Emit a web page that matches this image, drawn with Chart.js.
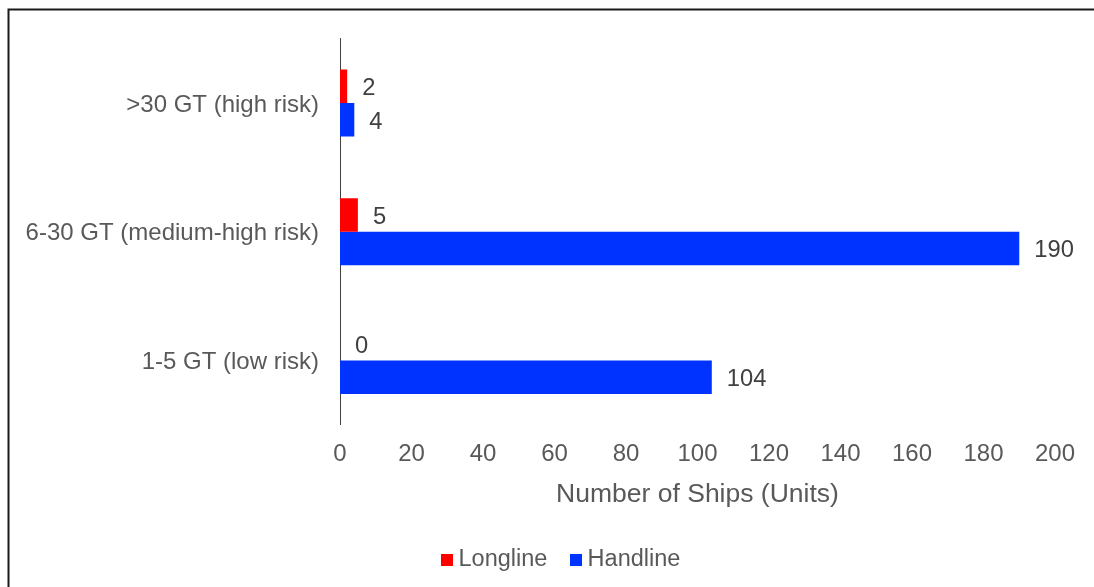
<!DOCTYPE html>
<html>
<head>
<meta charset="utf-8">
<script src="https://cdn.jsdelivr.net/npm/chart.js@4/dist/chart.umd.min.js"></script>
<style>
  html, body { margin: 0; padding: 0; background: #fff; overflow: hidden; }
  canvas { display: block; }
</style>
</head>
<body>
<canvas id="c" width="1094" height="587"></canvas>
<script>
// Vessel size classes (top to bottom) and ship counts per gear type
const categories = [">30 GT (high risk)", "6-30 GT (medium-high risk)", "1-5 GT (low risk)"];
const longline = [2, 5, 0];
const handline = [4, 190, 104];
const xMin = 0;
const xMax = 200;
const xStep = 20;

const FONT = '"Liberation Sans", Arial, sans-serif';
const TEXT_GREY = '#595959';
const LABEL_DARK = '#404040';
const RED = '#FF0000';
const BLUE = '#0033FF';

// Small square swatch used as the legend marker
function swatch(color) {
  const c = document.createElement('canvas');
  c.width = 12;
  c.height = 12;
  const g = c.getContext('2d');
  g.fillStyle = color;
  g.fillRect(0, 0, 12, 12);
  return c;
}
const swatches = [swatch(RED), swatch(BLUE)];

// White page with an outer frame
const framePlugin = {
  id: 'frame',
  beforeDraw(chart) {
    const ctx = chart.ctx;
    ctx.save();
    ctx.fillStyle = '#ffffff';
    ctx.fillRect(0, 0, chart.width, chart.height);
    ctx.strokeStyle = '#1a1a1a';
    ctx.lineWidth = 2;
    ctx.strokeRect(8.5, 9.5, chart.width + 40, chart.height + 40);
    ctx.restore();
  }
};

// Centre the legend row under the page rather than under the padded box
const legendCentre = {
  id: 'legendCentre',
  afterLayout(chart) {
    const lg = chart.legend;
    if (!lg || !lg.lineWidths) return;
    const pad = lg.options.labels.padding;
    const startX = (lg.left + pad + lg.right - lg.lineWidths[0]) / 2;
    const shift = 446.25 - startX;
    lg.left += shift;
    lg.right += shift;
  }
};

// Value labels just past the end of each bar
const valueLabels = {
  id: 'valueLabels',
  afterDatasetsDraw(chart) {
    const ctx = chart.ctx;
    ctx.save();
    ctx.font = '23.75px ' + FONT;
    ctx.fillStyle = LABEL_DARK;
    ctx.textAlign = 'left';
    ctx.textBaseline = 'middle';
    chart.data.datasets.forEach((ds, i) => {
      chart.getDatasetMeta(i).data.forEach((bar, j) => {
        ctx.fillText(String(ds.data[j]), bar.x + 15, bar.y + 2.5);
      });
    });
    ctx.restore();
  }
};

new Chart(document.getElementById('c'), {
  type: 'bar',
  data: {
    labels: categories,
    datasets: [
      { label: 'Longline', data: longline, backgroundColor: RED, borderWidth: 0 },
      { label: 'Handline', data: handline, backgroundColor: BLUE, borderWidth: 0 }
    ]
  },
  options: {
    indexAxis: 'y',
    responsive: false,
    devicePixelRatio: 1,
    animation: false,
    events: [],
    categoryPercentage: 0.52,
    barPercentage: 1.0,
    layout: { padding: { top: 38.6, right: 39, bottom: 5.75, left: 0 } },
    scales: {
      y: {
        type: 'category',
        afterFit(scale) { scale.width = 340; },
        grid: { display: false, drawTicks: false },
        border: { display: true, color: LABEL_DARK, width: 1 },
        ticks: { color: TEXT_GREY, font: { family: FONT, size: 24 }, padding: 21, labelOffset: 2 }
      },
      x: {
        type: 'linear',
        min: xMin,
        max: xMax,
        afterFit(scale) { scale.height = 94.95; },
        grid: { display: false, drawTicks: false },
        border: { display: false },
        ticks: { stepSize: xStep, color: TEXT_GREY, font: { family: FONT, size: 24 }, padding: 14.8 },
        title: {
          display: true,
          text: 'Number of Ships (Units)',
          color: TEXT_GREY,
          font: { family: FONT, size: 26.5 },
          padding: { top: 0, bottom: 8.85 }
        }
      }
    },
    plugins: {
      tooltip: { enabled: false },
      legend: {
        position: 'bottom',
        labels: {
          color: TEXT_GREY,
          font: { family: FONT, size: 23.5 },
          usePointStyle: true,
          pointStyleWidth: 0.5,
          boxWidth: 0.5,
          boxHeight: 12.5,
          padding: 28,
          generateLabels(chart) {
            const items = Chart.defaults.plugins.legend.labels.generateLabels(chart);
            items.forEach((it, i) => { it.pointStyle = swatches[i]; });
            return items;
          }
        }
      }
    }
  },
  plugins: [framePlugin, legendCentre, valueLabels]
});
</script>
</body>
</html>
